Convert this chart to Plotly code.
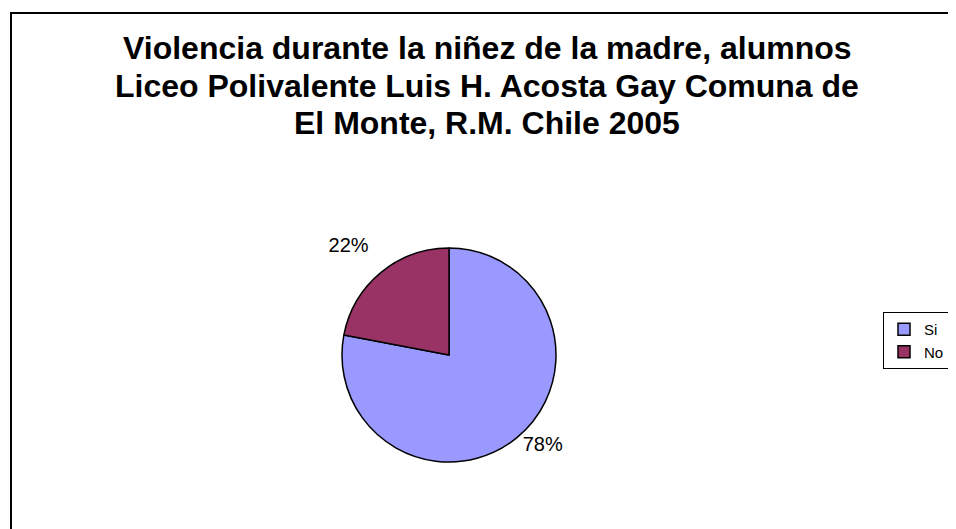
import plotly.graph_objects as go

categories = ["Si", "No"]
values = [78, 22]
colors = ["#9999FF", "#993366"]
title_lines = [
    "Violencia durante la niñez de la madre, alumnos",
    "Liceo Polivalente Luis H. Acosta Gay Comuna de",
    "El Monte, R.M. Chile 2005",
]

# page body has an 8px margin; the figure starts 8px in and overflows the window edge
OFF = 8
W, H = 956, 529
FONT = "Liberation Sans, Arial, sans-serif"


def px(sx):
    return (sx - OFF) / W


def py(sy):
    return 1 - (sy - OFF) / H


cx, cy, r = 449, 355, 107

fig = go.Figure(
    go.Pie(
        labels=categories,
        values=values,
        sort=False,
        direction="clockwise",
        rotation=0,
        marker=dict(colors=colors, line=dict(color="black", width=1.5)),
        textinfo="percent",
        textposition="outside",
        texttemplate=["%{percent:.0%}", "%{percent:.0%}<br>&nbsp;"],
        textfont=dict(family=FONT, size=20, color="black"),
        domain=dict(x=[px(cx - r), px(cx + r)], y=[py(cy + r), py(cy - r)]),
        hoverinfo="label+percent",
    )
)

title_y = [48, 86, 123]
annotations = [
    dict(
        text="<b>" + line + "</b>",
        xref="paper",
        yref="paper",
        x=px(487),
        y=py(yy),
        xanchor="center",
        yanchor="middle",
        showarrow=False,
        font=dict(family=FONT, size=32, color="black"),
    )
    for line, yy in zip(title_lines, title_y)
]

fig.update_layout(
    width=W,
    height=H,
    margin=dict(l=0, r=0, t=0, b=0, autoexpand=False),
    paper_bgcolor="white",
    plot_bgcolor="white",
    annotations=annotations,
    legend=dict(
        x=px(883),
        xanchor="left",
        y=py(312),
        yanchor="top",
        bordercolor="black",
        borderwidth=1,
        bgcolor="white",
        font=dict(family=FONT, size=15, color="black"),
    ),
    showlegend=True,
    shapes=[
        dict(
            type="rect",
            xref="paper",
            yref="paper",
            x0=px(11),
            x1=1.05,
            y0=-0.05,
            y1=py(13),
            line=dict(color="black", width=2),
            layer="below",
        )
    ],
)

fig.write_html("out.html")
